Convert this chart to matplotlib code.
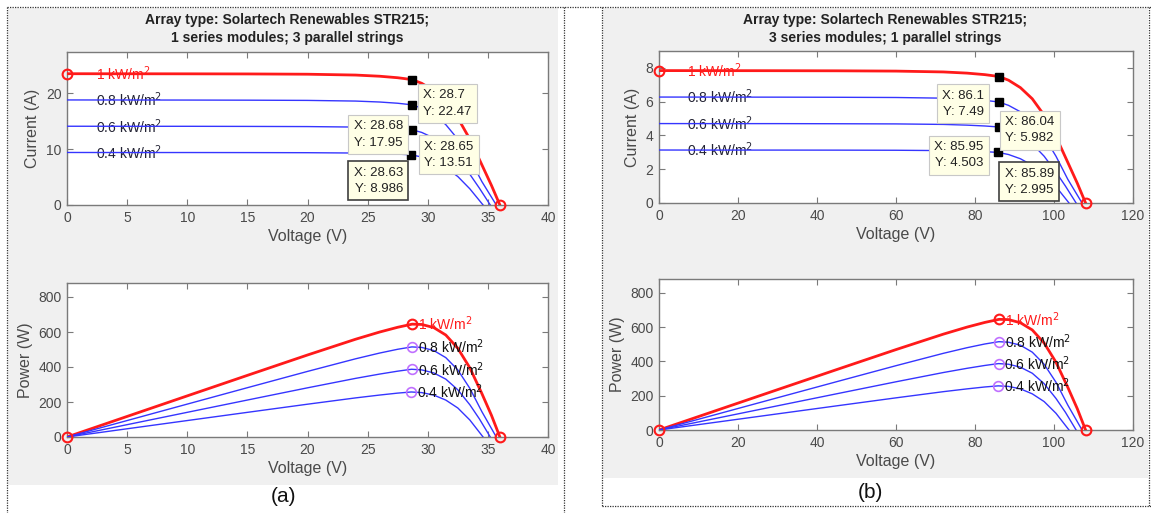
import numpy as np
import matplotlib
matplotlib.use('Agg')
import matplotlib.pyplot as plt
from matplotlib.patches import Rectangle
from matplotlib.lines import Line2D

plt.rcParams['font.family'] = ['Liberation Sans', 'DejaVu Sans']

irr_labels = ['1 kW/m$^2$', '0.8 kW/m$^2$', '0.6 kW/m$^2$', '0.4 kW/m$^2$']

# (a) 1 series module, 3 parallel strings
a_v10 = [0, 5, 10, 15, 20, 24, 26, 27.5, 28.7, 29.5, 30.5, 31.5, 32.5, 33.5, 34.5, 35.3, 36.0]
a_i10 = [23.52, 23.51, 23.5, 23.48, 23.43, 23.28, 23.07, 22.8, 22.47, 21.8, 20.5, 18.5, 15.6, 11.8, 7.2, 3.5, 0]
a_v08 = [0, 5, 10, 15, 20, 24, 26, 27.5, 28.68, 29.5, 30.5, 31.5, 32.5, 33.5, 34.5, 35.7]
a_i08 = [18.82, 18.81, 18.8, 18.78, 18.74, 18.62, 18.45, 18.23, 17.95, 17.35, 16.2, 14.4, 11.8, 8.3, 4.2, 0]
a_v06 = [0, 5, 10, 15, 20, 24, 26, 27.5, 28.65, 29.5, 30.5, 31.5, 32.5, 33.5, 34.3, 35.2]
a_i06 = [14.11, 14.1, 14.1, 14.08, 14.05, 13.96, 13.83, 13.68, 13.51, 13.0, 12.0, 10.5, 8.3, 5.5, 3.0, 0]
a_v04 = [0, 5, 10, 15, 20, 24, 26, 27.5, 28.63, 29.5, 30.5, 31.5, 32.5, 33.5, 34.6]
a_i04 = [9.41, 9.4, 9.4, 9.39, 9.37, 9.31, 9.22, 9.12, 8.986, 8.6, 7.85, 6.7, 5.1, 2.9, 0]
a_mpp_v = [28.7, 28.68, 28.65, 28.63]
a_mpp_i = [22.47, 17.95, 13.51, 8.986]

# (b) 3 series modules, 1 parallel string
b_v10 = [0, 15, 30, 45, 60, 72, 78, 82.5, 86.1, 88.5, 91.5, 94.5, 97.5, 100.5, 103.5, 105.9, 108]
b_i10 = [7.84, 7.837, 7.833, 7.827, 7.81, 7.76, 7.69, 7.6, 7.49, 7.27, 6.83, 6.17, 5.2, 3.93, 2.4, 1.17, 0]
b_v08 = [0, 15, 30, 45, 60, 72, 78, 82.5, 86.04, 88.5, 91.5, 94.5, 97.5, 100.5, 103.5, 107.1]
b_i08 = [6.273, 6.27, 6.267, 6.26, 6.247, 6.207, 6.15, 6.077, 5.982, 5.78, 5.4, 4.8, 3.93, 2.77, 1.4, 0]
b_v06 = [0, 15, 30, 45, 60, 72, 78, 82.5, 85.95, 88.5, 91.5, 94.5, 97.5, 100.5, 102.9, 105.6]
b_i06 = [4.703, 4.7, 4.7, 4.693, 4.683, 4.653, 4.61, 4.56, 4.503, 4.33, 4.0, 3.5, 2.77, 1.83, 1.0, 0]
b_v04 = [0, 15, 30, 45, 60, 72, 78, 82.5, 85.89, 88.5, 91.5, 94.5, 97.5, 100.5, 103.8]
b_i04 = [3.137, 3.133, 3.133, 3.13, 3.123, 3.103, 3.073, 3.04, 2.995, 2.87, 2.62, 2.23, 1.7, 0.97, 0]
b_mpp_v = [86.1, 86.04, 85.95, 85.89]
b_mpp_i = [7.49, 5.982, 4.503, 2.995]

title_a = 'Array type: Solartech Renewables STR215;\n1 series modules; 3 parallel strings'
title_b = 'Array type: Solartech Renewables STR215;\n3 series modules; 1 parallel strings'

RED = '#ff1a1a'
BLUE = '#3535ff'
TIPFACE = '#ffffe6'
GRAYTXT = '#4a4a4a'
SPINE = '#7a7a7a'

W, H = 1151, 513
fig = plt.figure(figsize=(W / 100, H / 100), dpi=100)


def fx(px):
    return px / W


def fy(py):
    return 1 - py / H


# grey matlab figure backgrounds
fig.patches.append(Rectangle((fx(8), fy(485)), fx(550), 477 / H, transform=fig.transFigure,
                             facecolor='#f0f0f0', edgecolor='none', zorder=-5))
fig.patches.append(Rectangle((fx(603), fy(478)), fx(545), 470 / H, transform=fig.transFigure,
                             facecolor='#f0f0f0', edgecolor='none', zorder=-5))
# dotted frames
dots = dict(transform=fig.transFigure, color='#333333', lw=0.9, ls=(0, (1, 1)), zorder=-4)
fig.lines.append(Line2D([fx(7), fx(1151)], [fy(7), fy(7)], **dots))
fig.lines.append(Line2D([fx(7), fx(7)], [fy(7), 0], **dots))
fig.lines.append(Line2D([fx(564), fx(564)], [fy(7), 0], **dots))
fig.lines.append(Line2D([fx(602), fx(602)], [fy(7), fy(506)], **dots))
fig.lines.append(Line2D([fx(602), fx(1151)], [fy(506), fy(506)], **dots))
fig.lines.append(Line2D([fx(1149), fx(1149)], [fy(7), fy(506)], **dots))


def style(ax):
    ax.set_facecolor('white')
    for s in ax.spines.values():
        s.set_color(SPINE)
        s.set_linewidth(1.0)
    ax.tick_params(direction='in', top=True, right=True, length=4, color=SPINE,
                   labelcolor=GRAYTXT, labelsize=10, pad=4)


def panel(rect_iv, rect_p, vs, cs, mpp_v, mpp_i, xmax, xstep, ymax, ystep,
          lab_x, plab_dx, tips, title, title_cx, tag, tag_xy):
    ax = fig.add_axes(rect_iv)
    bx = fig.add_axes(rect_p)
    style(ax)
    style(bx)

    for k in range(4):
        v = np.array(vs[k])
        c = np.array(cs[k])
        p = v * c
        col = RED if k == 0 else BLUE
        lw = 2.0 if k == 0 else 1.0
        ax.plot(v, c, color=col, lw=lw, zorder=3)
        bx.plot(v, p, color=col, lw=lw, zorder=3)
        ax.text(lab_x, c[0], irr_labels[k], color=RED if k == 0 else '#222233',
                fontsize=10, va='center', ha='left', zorder=2)
        pm = mpp_v[k] * mpp_i[k]
        bx.text(mpp_v[k] + plab_dx, pm, irr_labels[k], color=RED if k == 0 else '#111111',
                fontsize=10, va='center', ha='left', zorder=4)
        if k == 0:
            ax.plot([v[0], v[-1]], [c[0], c[-1]], 'o', mfc='none', mec=RED, mew=1.5, ms=7,
                    zorder=5, clip_on=False)
            bx.plot([v[0], mpp_v[k], v[-1]], [p[0], pm, p[-1]], 'o', mfc='none', mec=RED,
                    mew=1.5, ms=7, zorder=5, clip_on=False)
        else:
            bx.plot([mpp_v[k]], [pm], 'o', mfc='none', mec='#c070ff', mew=1.2, ms=7, zorder=5)
        ax.plot([mpp_v[k]], [mpp_i[k]], 's', color='black', ms=6, zorder=6)

        dx, dy, ha = tips[k]
        ax.annotate('X: %s\nY: %s' % (mpp_v[k], mpp_i[k]), xy=(mpp_v[k], mpp_i[k]),
                    xytext=(dx, dy), textcoords='offset points', ha=ha, va='top',
                    fontsize=9.5, color='#222222', linespacing=1.5, zorder=7,
                    annotation_clip=False,
                    bbox=dict(boxstyle='square,pad=0.4', fc=TIPFACE,
                              ec='#404040' if k == 3 else '#c8c8c8',
                              lw=1.2 if k == 3 else 0.8))

    ax.set_xlim(0, xmax)
    ax.set_ylim(0, ymax)
    ax.set_xticks(np.arange(0, xmax + 1, xstep))
    ax.set_yticks(np.arange(0, ymax, ystep))
    bx.set_xlim(0, xmax)
    bx.set_ylim(0, 880)
    bx.set_xticks(np.arange(0, xmax + 1, xstep))
    bx.set_yticks([0, 200, 400, 600, 800])
    for a, yl in ((ax, 'Current (A)'), (bx, 'Power (W)')):
        a.set_xlabel('Voltage (V)', fontsize=11.5, color=GRAYTXT, labelpad=3)
        a.set_ylabel(yl, fontsize=11.5, color=GRAYTXT, labelpad=4)

    fig.text(fx(title_cx), fy(29), title, ha='center', va='center', fontsize=10,
             fontweight='bold', color='#222222', linespacing=1.4)
    fig.text(fx(tag_xy[0]), fy(tag_xy[1]), tag, ha='center', va='center', fontsize=15,
             color='#111111')


panel([fx(67), fy(205), 481 / W, 153.5 / H], [fx(67), fy(437), 481 / W, 154 / H],
      [a_v10, a_v08, a_v06, a_v04], [a_i10, a_i08, a_i06, a_i04], a_mpp_v, a_mpp_i,
      40, 5, 27.5, 10, 2.4, 0.5,
      [(8, -7, 'left'), (-6.5, -11, 'right'), (9, -8, 'left'), (-6, -8.5, 'right')],
      title_a, 287, '(a)', (283, 497))

panel([fx(659), fy(203), 474 / W, 152 / H], [fx(659), fy(430), 474 / W, 151 / H],
      [b_v10, b_v08, b_v06, b_v04], [b_i10, b_i08, b_i06, b_i04], b_mpp_v, b_mpp_i,
      120, 20, 9, 2, 7, 1.5,
      [(-11, -9.5, 'right'), (4.5, -10, 'left'), (-11, -10, 'right'), (4.5, -11, 'left')],
      title_b, 885, '(b)', (870, 493))

fig.savefig('out.png', dpi=100)
